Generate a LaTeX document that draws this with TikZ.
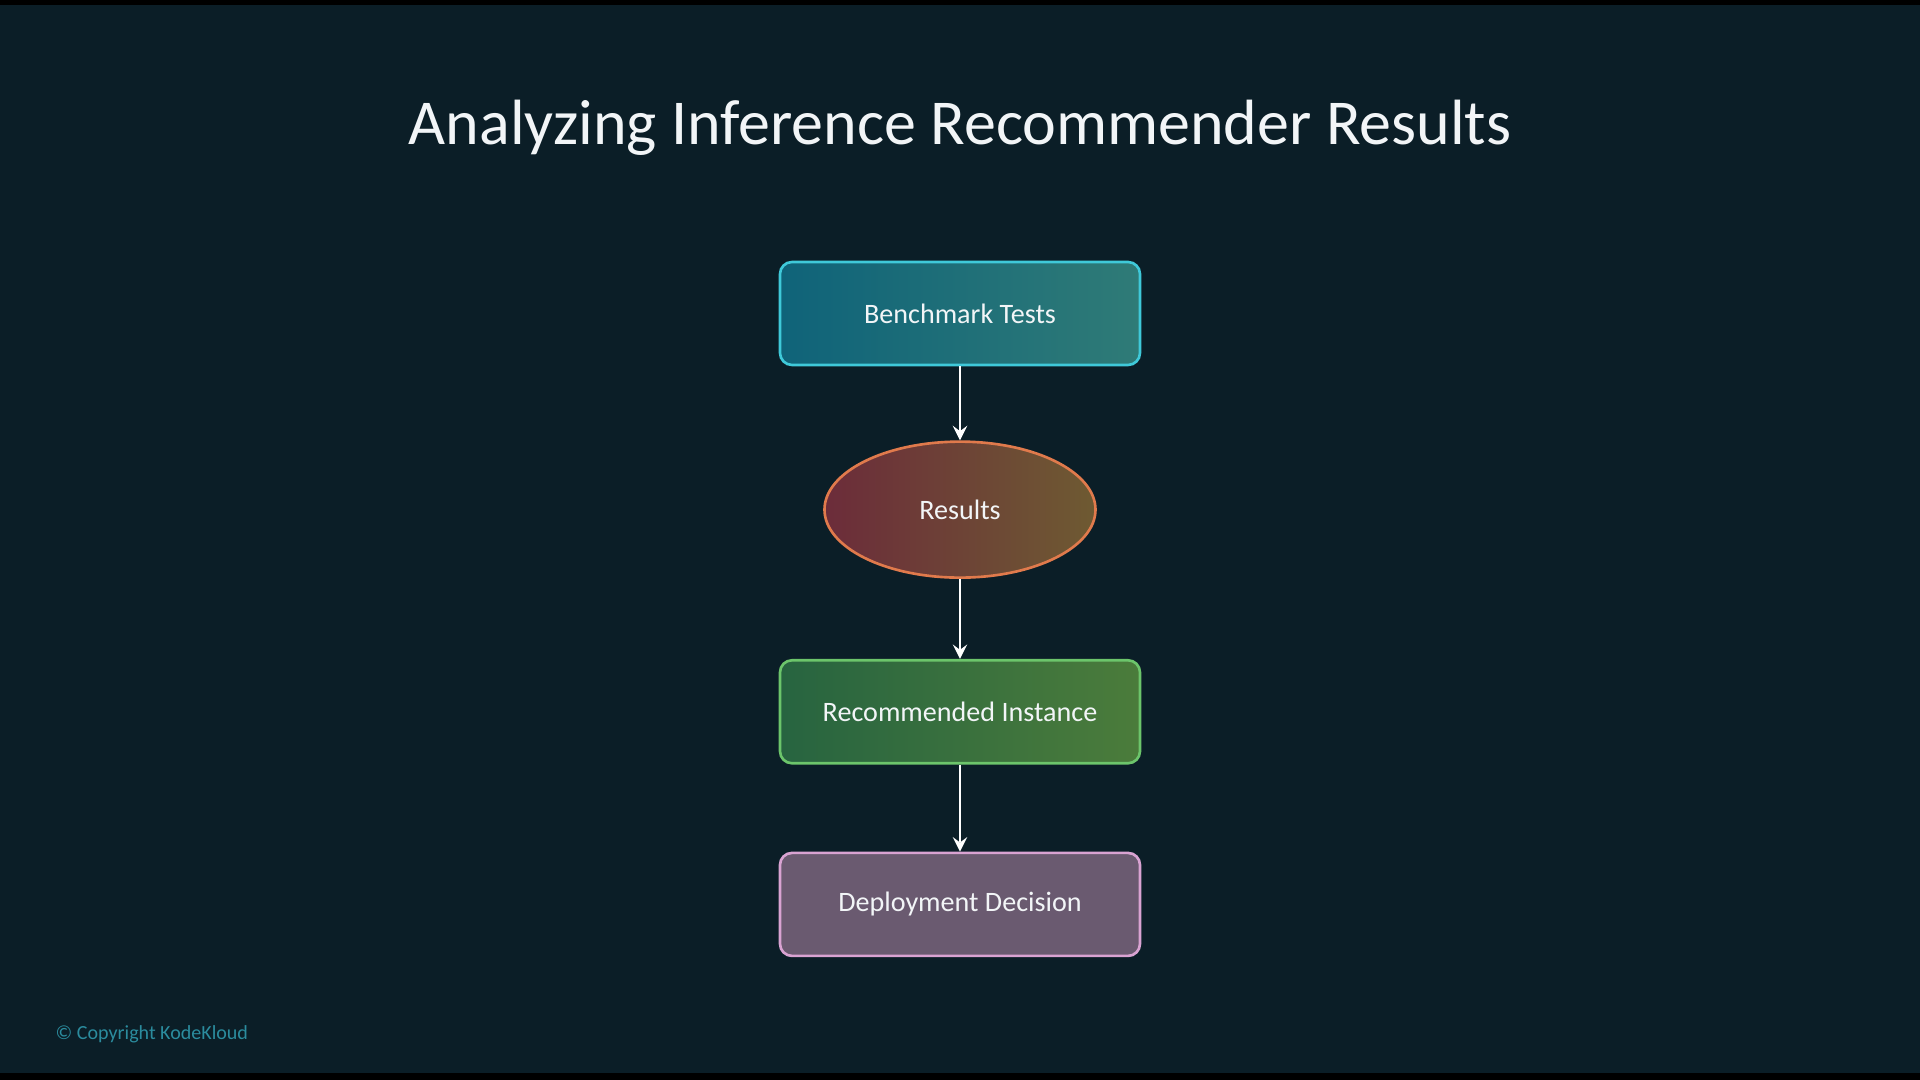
\documentclass[tikz,border=0pt]{standalone}
\usepackage{fontspec}
\setmainfont{Carlito}
\usetikzlibrary{arrows, positioning, shapes.geometric}
\definecolor{slidebg}{HTML}{0B1E27}
\definecolor{titlewhite}{HTML}{F2F5F7}
\definecolor{benchleft}{HTML}{0F6379}
\definecolor{benchright}{HTML}{2F7B77}
\definecolor{benchline}{HTML}{3FC9D9}
\definecolor{resleft}{HTML}{6C2C3A}
\definecolor{resright}{HTML}{6E5A32}
\definecolor{resline}{HTML}{E07A4C}
\definecolor{recleft}{HTML}{276440}
\definecolor{recright}{HTML}{4B7C3B}
\definecolor{recline}{HTML}{6CC56B}
\definecolor{deployfill}{HTML}{6A5A70}
\definecolor{deployline}{HTML}{D9A3D2}
\definecolor{copyteal}{HTML}{2B8C9E}

\begin{document}
\begin{tikzpicture}[
    node distance=0.75cm,
    stepbox/.style={draw, rectangle, rounded corners=0.12cm, line width=0.75pt, minimum width=3.6cm, minimum height=1.03cm, align=center, text=titlewhite, font=\fontsize{8}{9}\selectfont},
    outcome/.style={draw, ellipse, line width=0.75pt, minimum width=2.71cm, minimum height=1.36cm, text=titlewhite, font=\fontsize{8}{9}\selectfont},
    arrow/.style={->, line width=0.8pt, >=stealth, white}
]

% Slide background with dark bars
\fill[black] (-9.6,-5.4) rectangle (9.6,5.4);
\fill[slidebg] (-9.6,-5.33) rectangle (9.6,5.35);
\useasboundingbox (-9.6,-5.4) rectangle (9.6,5.4);

% Title
\node[anchor=base, text=titlewhite, font=\fontsize{18.2}{22}\selectfont] (title) at (0, 3.955) {Analyzing Inference Recommender Results};

% Flow
\node[stepbox, left color=benchleft, right color=benchright, draw=benchline] (bench) at (0, 2.265) {Benchmark Tests};
\node[outcome, below=0.74cm of bench, left color=resleft, right color=resright, draw=resline] (results) {Results};
\node[stepbox, below=0.8cm of results, left color=recleft, right color=recright, draw=recline] (recinst) {Recommended Instance};
\node[stepbox, below=0.87cm of recinst, fill=deployfill, draw=deployline] (deploy) {Deployment Decision};

\draw[arrow] (bench) -- (results);
\draw[arrow] (results) -- (recinst);
\draw[arrow] (recinst) -- (deploy);

% Footer
\node[anchor=base west, text=copyteal, font=\fontsize{5.7}{7}\selectfont, inner sep=0pt] (copyright) at (-9.05, -4.99) {© Copyright KodeKloud};

\end{tikzpicture}
\end{document}
